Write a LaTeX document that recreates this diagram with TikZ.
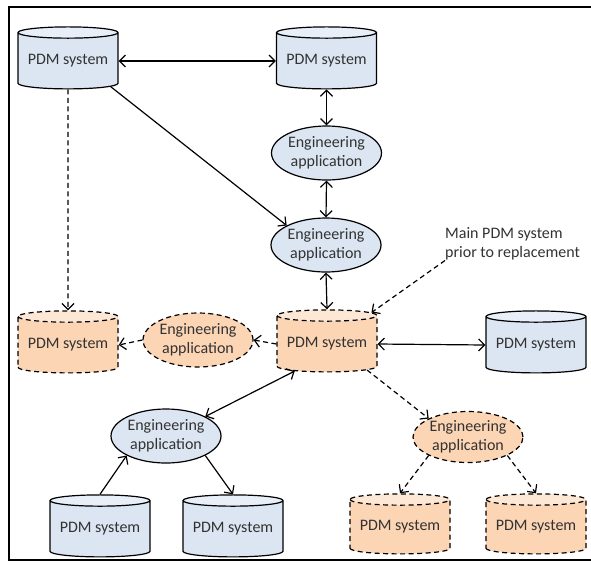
\documentclass[tikz,border=0pt]{standalone}
\usepackage{fontspec}
\setmainfont{Carlito}
\usetikzlibrary{shapes.geometric,arrows.meta}
\definecolor{bluefill}{RGB}{220,230,242}
\definecolor{bluetop}{RGB}{232,239,248}
\definecolor{orfill}{RGB}{252,213,181}
\definecolor{ortop}{RGB}{253,231,213}
\definecolor{txt}{RGB}{50,50,50}

\begin{document}
\begin{tikzpicture}[x=1pt,y=1pt,>={Straight Barb[length=6pt,width=12pt]}]
		\tikzstyle{every node}+=[inner sep=0pt,text=txt,font=\fontsize{16}{19.5}\selectfont,align=center]
		\tikzstyle{pdm}=[cylinder,shape border rotate=90,aspect=0.14,draw=black,line width=1.2pt,minimum width=100pt,minimum height=62pt,cylinder uses custom fill,cylinder body fill=bluefill,cylinder end fill=bluetop]
		\tikzstyle{pdmnew}=[pdm,dash pattern=on 5pt off 3.5pt,cylinder body fill=orfill,cylinder end fill=ortop]
		\tikzstyle{app}=[ellipse,draw=black,line width=1.2pt,fill=bluefill,minimum width=110pt,minimum height=54pt]
		\tikzstyle{appnew}=[app,dash pattern=on 5pt off 3.5pt,fill=orfill]
		\tikzstyle{link}=[black,line width=1.2pt]
		\tikzstyle{linknew}=[link,dash pattern=on 5pt off 3.5pt]
		\useasboundingbox (0,0) rectangle (591,-566);
		\draw [black,line width=1.5pt] (595,-7) -- (9,-7) -- (9,-560) -- (595,-560);
		\node [pdm] (pdmA) at (68,-61) {PDM system};
		\node [pdm] (pdmB) at (326.5,-61) {PDM system};
		\node [app] (appA) at (326.5,-153) {Engineering\\application};
		\node [app] (appB) at (326,-245) {Engineering\\application};
		\node [pdmnew] (main) at (327,-344) {PDM system};
		\node [pdm] (pdmR) at (536,-345) {PDM system};
		\node [pdmnew] (pdmL) at (68,-345) {PDM system};
		\node [appnew] (appL) at (198,-340) {Engineering\\application};
		\node [app] (appC) at (166,-436) {Engineering\\application};
		\node [pdm] (pdmC) at (100,-529) {PDM system};
		\node [pdm] (pdmD) at (233,-529) {PDM system};
		\node [appnew,minimum width=110pt,minimum height=51pt] (appD) at (468,-437) {Engineering\\application};
		\node [pdmnew,minimum height=60pt] (pdmE) at (400,-527) {PDM system};
		\node [pdmnew,minimum height=60pt] (pdmF) at (536,-527) {PDM system};
		\node [anchor=north west,align=left] (note) at (445,-227) {Main PDM system\\prior to replacement};
		\draw [link,<->] (pdmA.east) -- (pdmB.west);
		\draw [link,<->] (pdmB.south) -- (appA.north);
		\draw [link,<->] (appA.south) -- (appB.north);
		\draw [link,->] (pdmA.-31) -- (appB.north west);
		\draw [linknew,->] (pdmA.south) -- (pdmL.north);
		\draw [link,<->] (appB.south) -- (main.north);
		\draw [linknew,->] (note.south west) -- (main);
		\draw [linknew,->] (main.west) -- (appL.east);
		\draw [linknew,->] (appL.west) -- (pdmL.east);
		\draw [link,<->] (main.east) -- (pdmR.west);
		\draw [link,<->] (main.220) -- (appC.north east);
		\draw [link,->] (pdmC.north) -- (appC.south west);
		\draw [link,->] (appC.south east) -- (pdmD.north);
		\draw [linknew,->] (main.-33) -- (appD.north west);
		\draw [linknew,->] (appD.south west) -- (pdmE.north);
		\draw [linknew,->] (appD.south east) -- (pdmF.north);
	\end{tikzpicture}
\end{document}
